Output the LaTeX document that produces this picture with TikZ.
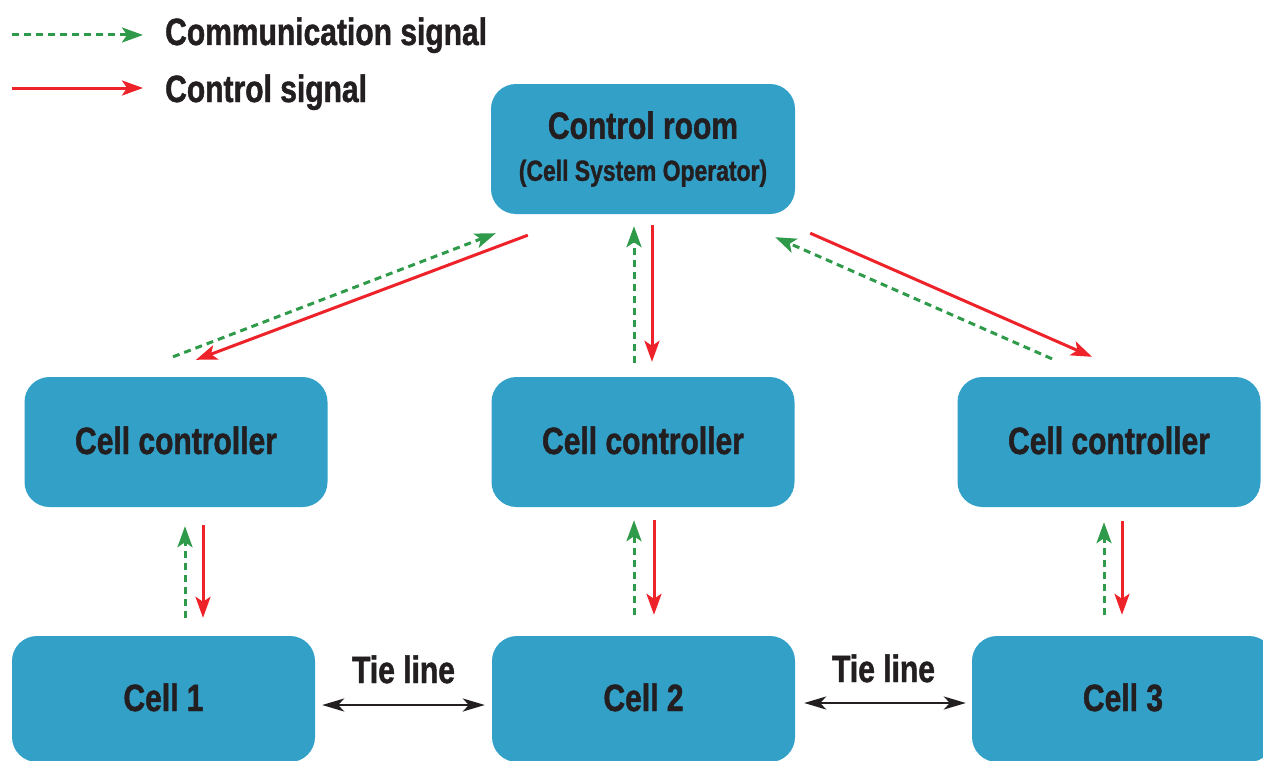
\documentclass[tikz,border=0pt]{standalone}
\usepackage{fontspec}
\setmainfont{Liberation Sans}[FakeStretch=0.79, BoldFeatures={FakeBold=1.2}]
\usetikzlibrary{arrows.meta,calc}

\definecolor{boxblue}{HTML}{33A0C8}
\definecolor{commgreen}{HTML}{2E9A4A}
\definecolor{ctrlred}{HTML}{EE2229}
\definecolor{inkdark}{HTML}{231F20}

\newcommand\lblfont{\bfseries\fontsize{38}{42}\selectfont}
\newcommand\subfont{\bfseries\fontsize{29}{42}\selectfont}

\tikzset{
  unitbox/.style={rounded corners=25pt, fill=boxblue, draw=none,
    minimum width=303pt, minimum height=130pt, inner sep=0pt,
    text=inkdark, font=\lblfont},
  onelabel/.style={unitbox, text height=27pt, text depth=3pt},
  plaintext/.style={inner sep=0pt, text=inkdark, font=\lblfont},
  tip/.style={-{Stealth[length=21pt,width=15pt,inset=5pt]}},
  comm/.style={tip, commgreen, line width=3pt, dash pattern=on 7pt off 5pt},
  ctrl/.style={tip, ctrlred, line width=3pt},
  tie/.style={{Stealth[length=22pt,width=13pt,inset=6pt]}-{Stealth[length=22pt,width=13pt,inset=6pt]},
    inkdark, line width=2.2pt}
}

\begin{document}
\begin{tikzpicture}[x=1pt, y=-1pt]
\useasboundingbox (0,0) rectangle (1263,760);
\clip (0,0) rectangle (1263,760);

% legend
\node[plaintext, anchor=base west] (lt1) at (165,45) {Communication signal};
\node[plaintext, anchor=base west] (lt2) at (165,102) {Control signal};
\coordinate (ls1) at (12,35);
\coordinate (ls2) at (12,88);
\draw[comm, shorten >=22pt] (ls1) -- (ls1 -| lt1.west);
\draw[ctrl, shorten >=22pt] (ls2) -- (ls2 -| lt2.west);

% control room
\node[unitbox, align=center, minimum width=304pt] (cr) at (643,149)
  {Control room\\\subfont (Cell System Operator)};

% cell controllers
\node[onelabel] (cc1) at (176,442) {Cell controller};
\node[onelabel] (cc2) at (643,442) {Cell controller};
\node[onelabel] (cc3) at (1109,442) {Cell controller};

% cells
\node[onelabel, minimum height=126pt] (c1) at (163.5,699) {Cell 1};
\node[onelabel, minimum height=126pt] (c2) at (643.5,699) {Cell 2};
\node[onelabel, minimum height=126pt, minimum width=302pt] (c3) at (1123,699) {Cell 3};

% control room <-> left controller
\draw[comm] ($(cc1.north)+(-3,-20)$) -- ($(cr.south west)+(5,19)$);
\draw[ctrl] ($(cr.south west)+(37,21)$) -- ($(cc1.north)+(20,-17)$);

% control room <-> middle controller
\draw[comm, shorten <=14pt, shorten >=12pt] ([xshift=-9pt]cc2.north) -- ([xshift=-9pt]cr.south);
\draw[ctrl, shorten <=11pt, shorten >=15pt] ([xshift=9pt]cr.south) -- ([xshift=9pt]cc2.north);

% control room <-> right controller
\draw[comm] ($(cc3.north)+(-57,-18)$) -- ($(cr.south east)+(-20,23)$);
\draw[ctrl] ($(cr.south east)+(15,19)$) -- ($(cc3.north)+(-17,-20)$);

% controllers <-> cells
\draw[comm, shorten <=18pt, shorten >=19pt] ([xshift=9pt]cc1.south |- c1.north) -- ([xshift=9pt]cc1.south);
\draw[ctrl, shorten <=18pt, shorten >=18pt] ([xshift=27pt]cc1.south) -- ([xshift=27pt]cc1.south |- c1.north);

\draw[comm, shorten <=21pt, shorten >=13pt] ([xshift=-9pt]cc2.south |- c2.north) -- ([xshift=-9pt]cc2.south);
\draw[ctrl, shorten <=13pt, shorten >=21pt] ([xshift=11pt]cc2.south) -- ([xshift=11pt]cc2.south |- c2.north);

\draw[comm, shorten <=21pt, shorten >=15pt] ([xshift=-5pt]cc3.south |- c3.north) -- ([xshift=-5pt]cc3.south);
\draw[ctrl, shorten <=14pt, shorten >=21pt] ([xshift=13pt]cc3.south) -- ([xshift=13pt]cc3.south |- c3.north);

% tie lines
\draw[tie, shorten <=7pt, shorten >=7pt] ([yshift=-6pt]c1.east) -- ([yshift=-6pt]c2.west)
  node[plaintext, midway, anchor=base, yshift=22pt] (t1) {Tie line};
\draw[tie, shorten <=9pt, shorten >=6pt] ([yshift=-4pt]c2.east) -- ([yshift=-4pt]c3.west)
  node[plaintext, midway, anchor=base, yshift=21pt] (t2) {Tie line};
\end{tikzpicture}
\end{document}
